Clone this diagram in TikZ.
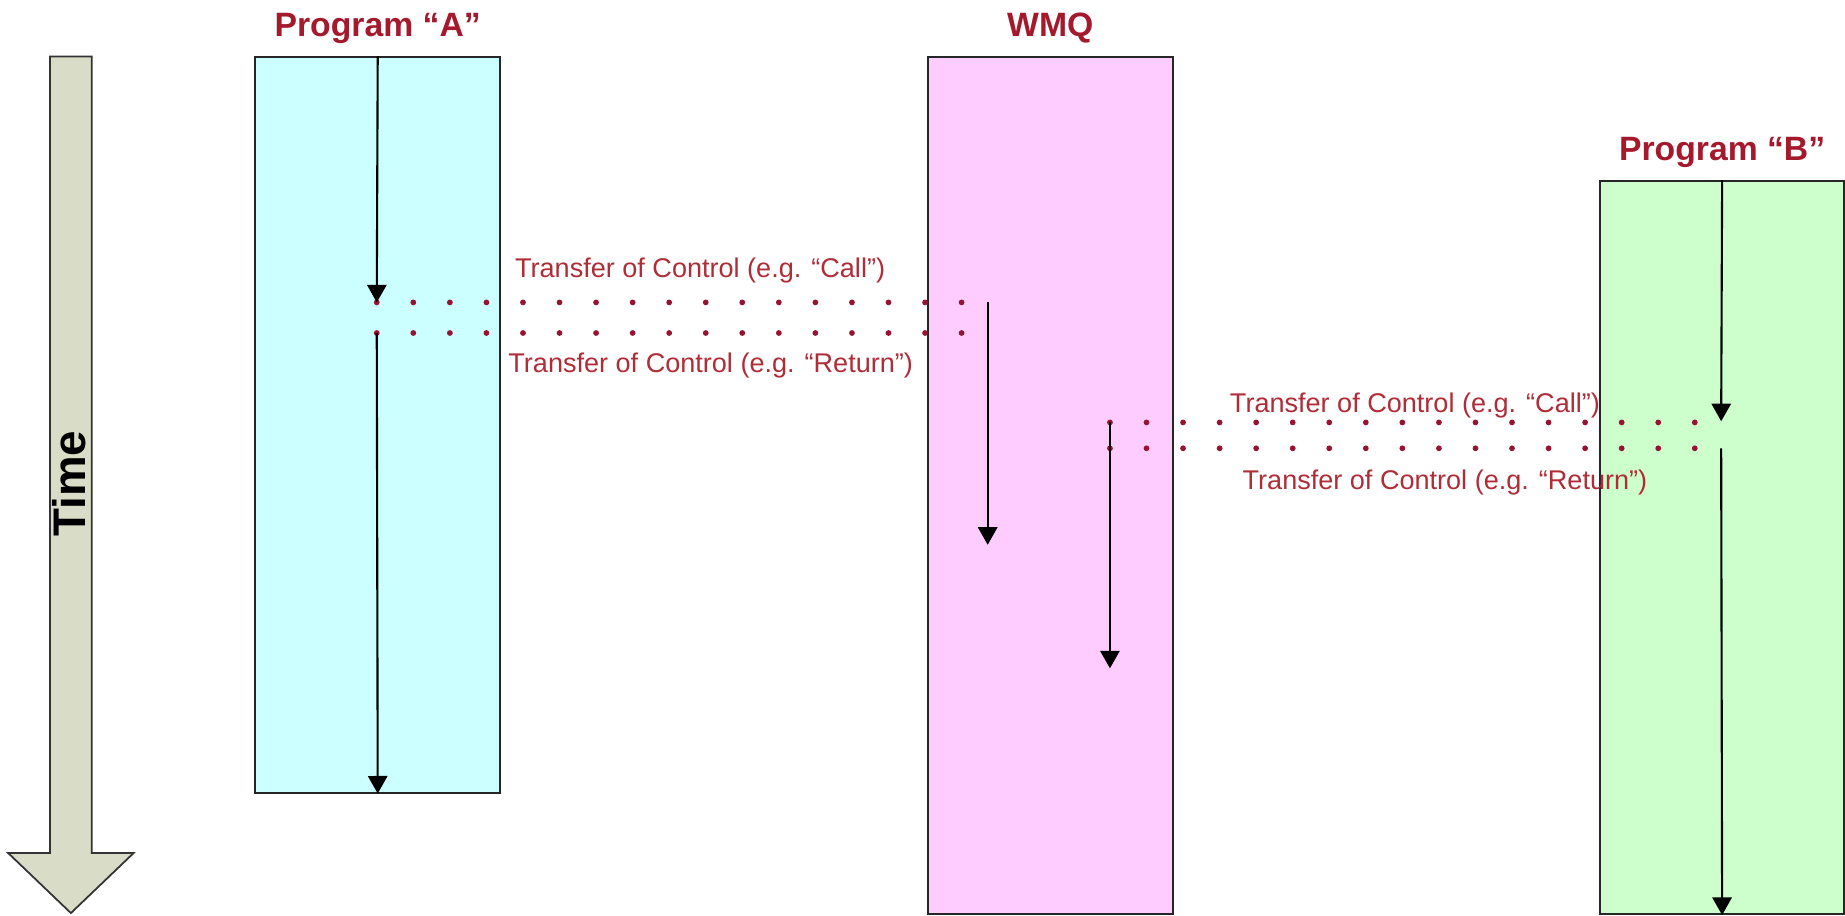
\documentclass[tikz,border=0pt]{standalone}
\usepackage{fontspec}
\setmainfont{Liberation Sans}
\usetikzlibrary{arrows.meta,positioning}

\definecolor{laneA}{HTML}{CCFFFF}
\definecolor{laneQ}{HTML}{FFCCFF}
\definecolor{laneB}{HTML}{CCFFCC}
\definecolor{timefill}{HTML}{D9DCC6}
\definecolor{titlered}{RGB}{165,25,45}
\definecolor{ctrlred}{RGB}{175,45,55}
\definecolor{dotred}{RGB}{150,20,50}

\tikzset{
	lane/.style={draw=black!85, line width=1.1pt, anchor=north west, inner sep=0pt},
	title/.style={font=\fontsize{19.2}{22}\selectfont\bfseries, text=titlered, inner sep=0pt},
	ctrltext/.style={font=\fontsize{15.4}{18}\selectfont, text=ctrlred, inner sep=0pt},
	flow/.style={line width=1.2pt, -{Triangle[width=11pt,length=10pt]}},
	ctrl/.style={dotred, line width=3.3pt, line cap=round, dash pattern=on 0pt off 20.8pt},
}

\begin{document}
\begin{tikzpicture}[x=0.23533mm, y=-0.23533mm]
		\useasboundingbox (0,0) rectangle (1568,778);
		
		%time axis
		\draw[fill=timefill, draw=black!80, line width=1pt] (42.5,48) -- (78,48) -- (78,725) -- (113.5,725) -- (60.25,776) -- (7,725) -- (42.5,725) -- cycle;
		\node[rotate=90, font=\fontsize{26}{30}\selectfont\bfseries] (time) at (59,411) {Time};
		
		%lanes
		\node[lane, fill=laneA, minimum width=49.04mm, minimum height=147.03mm] (progA) at (216,48) {};
		\node[lane, fill=laneQ, minimum width=49.07mm, minimum height=171.32mm] (wmq) at (787.5,48) {};
		\node[lane, fill=laneB, minimum width=48.83mm, minimum height=146.61mm] (progB) at (1359,153) {};
		
		\node[title, above=11.3pt of progA.north, anchor=base] (nameA) {Program “A”};
		\node[title, above=11.3pt of wmq.north, anchor=base] (nameQ) {WMQ};
		\node[title, above=11.3pt of progB.north, anchor=base] (nameB) {Program “B”};
		
		%hand-over points
		\coordinate (aCall) at (320.2,257);
		\coordinate (aRet) at (320.2,283);
		\coordinate (qCall) at (818.7,257);
		\coordinate (qRet) at (818.7,283);
		\coordinate (qIn) at (839.4,257);
		\coordinate (qInEnd) at (839.4,463);
		\coordinate (qOut) at (943.3,359);
		\coordinate (qOutRet) at (943.3,381);
		\coordinate (qOutEnd) at (943.3,568);
		\coordinate (bCall) at (1442,359);
		\coordinate (bRet) at (1442,381);
		\coordinate (bIn) at (1462.75,358);
		\coordinate (bBack) at (1462.75,381);
		
		%dotted transfers
		\draw[ctrl] (aCall) -- (qCall);
		\draw[ctrl] (aRet) -- (qRet);
		\draw[ctrl] (qOut) -- (bCall);
		\draw[ctrl] (qOutRet) -- (bRet);
		
		%flow of control
		\draw[flow] (progA.north) -- (aCall);
		\draw[flow] (aRet) -- (progA.south);
		\draw[flow] (qIn) -- (qInEnd);
		\draw[flow] (qOut) -- (qOutEnd);
		\draw[flow] (progB.north) -- (bIn);
		\draw[flow] (bBack) -- (progB.south);
		
		\node[ctrltext] (callAQ) at (595,230) {Transfer of Control (e.g. “Call”)};
		\node[ctrltext] (retAQ) at (604,311) {Transfer of Control (e.g. “Return”)};
		\node[ctrltext] (callQB) at (1202.5,345) {Transfer of Control (e.g. “Call”)};
		\node[ctrltext] (retQB) at (1228,410) {Transfer of Control (e.g. “Return”)};
	\end{tikzpicture}
\end{document}
